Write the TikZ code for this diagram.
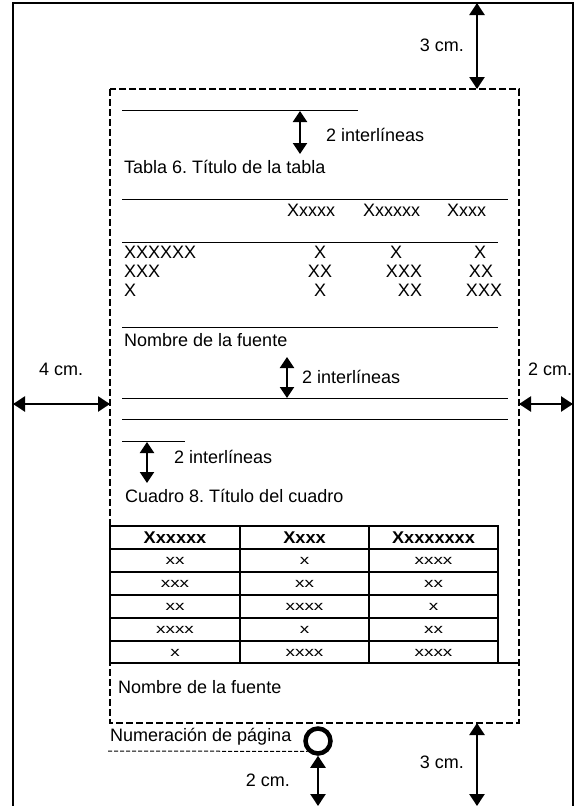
\documentclass[tikz,border=0pt]{standalone}
\usepackage{fontspec}
\setmainfont{Liberation Sans}
\usetikzlibrary{arrows.meta, positioning}
\frenchspacing

\newcommand{\widecell}[1]{\scalebox{1.4}[1]{#1}}

\tikzset{
  dimarrow/.style={{Triangle[length=12pt,width=15pt]}-{Triangle[length=12pt,width=15pt]}, line width=2.4pt},
  gaparrow/.style={{Triangle[length=11pt,width=14pt]}-{Triangle[length=11pt,width=14pt]}, line width=2pt},
  rule/.style={line width=0.8pt},
  grid/.style={line width=2pt},
  txt/.style={font=\fontsize{18}{20}\selectfont, inner sep=0pt, anchor=west},
  cell/.style={font=\fontsize{13.5}{15}\selectfont, inner sep=0pt},
  hcell/.style={font=\fontsize{17}{19}\selectfont\bfseries, inner sep=0pt},
}

\begin{document}
\begin{tikzpicture}[x=1pt, y=-1pt]
  \useasboundingbox (0,0) rectangle (578,806);

  % page and text area
  \draw[line width=1.5pt] (13,806) -- (13,3) -- (573,3) -- (573,806);
  \draw[line width=2.8pt, dash pattern=on 7pt off 3pt] (110,89) rectangle (519,723);

  % margins
  \coordinate (top1) at (477,3);
  \coordinate (top2) at (477,89);
  \draw[dimarrow] (top1) -- (top2);
  \node[txt, anchor=east] (mtop) at (464,45) {3 cm.};

  \coordinate (lft1) at (13,404);
  \coordinate (lft2) at (110,404);
  \draw[dimarrow] (lft1) -- (lft2);
  \node[txt] (mleft) at (39,369) {4 cm.};

  \coordinate (rgt1) at (519,404);
  \coordinate (rgt2) at (573,404);
  \draw[dimarrow] (rgt1) -- (rgt2);
  \node[txt] (mright) at (528,369) {2 cm.};

  \coordinate (bot1) at (477,723);
  \coordinate (bot2) at (477,806);
  \draw[dimarrow] (bot1) -- (bot2);
  \node[txt, anchor=east] (mbot) at (464,762) {3 cm.};

  % tabla
  \draw[rule] (122,110) -- (358,110);
  \coordinate (g1a) at (300,111);
  \coordinate (g1b) at (300,154);
  \draw[gaparrow] (g1a) -- (g1b);
  \node[txt] (gap1) at (326,135) {2 interlíneas};
  \node[txt] (tabtit) at (124,167) {Tabla 6. Título de la tabla};

  \draw[rule] (122,199) -- (508,199);
  \node[txt] (h1) at (287,210) {Xxxxx};
  \node[txt] (h2) at (363,210) {Xxxxxx};
  \node[txt] (h3) at (447,210) {Xxxx};
  \draw[rule] (122,242) -- (498,242);

  \node[txt] (r1) at (124,252) {XXXXXX};
  \node[txt] (r2) at (124,271) {XXX};
  \node[txt] (r3) at (124,290) {X};
  \foreach \y/\a/\xb/\b/\xc/\c in {252/X/396/X/480/X, 271/XX/404/XXX/481/XX, 290/X/410/XX/484/XXX}{
    \node[txt, anchor=center] at (320,\y) {\a};
    \node[txt, anchor=center] at (\xb,\y) {\b};
    \node[txt, anchor=center] at (\xc,\y) {\c};
  }

  \draw[rule] (122,327) -- (498,327);
  \node[txt] (src1) at (124,340) {Nombre de la fuente};

  \coordinate (g2a) at (287,357);
  \coordinate (g2b) at (287,398);
  \draw[gaparrow] (g2a) -- (g2b);
  \node[txt] (gap2) at (302,377) {2 interlíneas};
  \draw[rule] (122,398) -- (508,398);
  \draw[rule] (122,419) -- (508,419);

  % cuadro
  \draw[rule] (122,441) -- (185,441);
  \coordinate (g3a) at (147,442);
  \coordinate (g3b) at (147,483);
  \draw[gaparrow] (g3a) -- (g3b);
  \node[txt] (gap3) at (174,457) {2 interlíneas};
  \node[txt] (cuatit) at (125,496) {Cuadro 8. Título del cuadro};

  \draw[grid] (110,526) rectangle (498,663);
  \draw[grid] (498,663) -- (519,663);
  \foreach \x in {240,369}
    \draw[grid] (\x,526) -- (\x,663);
  \foreach \y in {549,572,595,618,641}
    \draw[grid] (110,\y) -- (498,\y);

  \node[hcell] (c11) at (175,537.5) {\scalebox{1.07}[1]{Xxxxxx}};
  \node[hcell] (c12) at (304.5,537.5) {\scalebox{1.07}[1]{Xxxx}};
  \node[hcell] (c13) at (433.5,537.5) {\scalebox{1.07}[1]{Xxxxxxxx}};
  \foreach \y/\a/\b/\c in {561/xx/x/xxxx, 584/xxx/xx/xx, 607/xx/xxxx/x, 630/xxxx/x/xx, 652.5/x/xxxx/xxxx}{
    \node[cell] at (175,\y) {\widecell{\a}};
    \node[cell] at (304.5,\y) {\widecell{\b}};
    \node[cell] at (433.5,\y) {\widecell{\c}};
  }

  \node[txt] (src2) at (118,687) {Nombre de la fuente};

  % numeracion
  \node[txt] (pnum) at (110,737) {Numeración de página};
  \node[circle, draw, line width=4.5pt, minimum width=25pt, minimum height=25pt, inner sep=0pt] (dot) at (318,741) {};
  \draw[dashed, dash pattern=on 4pt off 2pt, line width=1pt] (108,751) -- (dot.south west);
  \coordinate (pn2) at (318,806);
  \draw[dimarrow] (dot.south) -- (pn2);
  \node[txt, anchor=east] (mpn) at (290,780) {2 cm.};
\end{tikzpicture}
\end{document}
